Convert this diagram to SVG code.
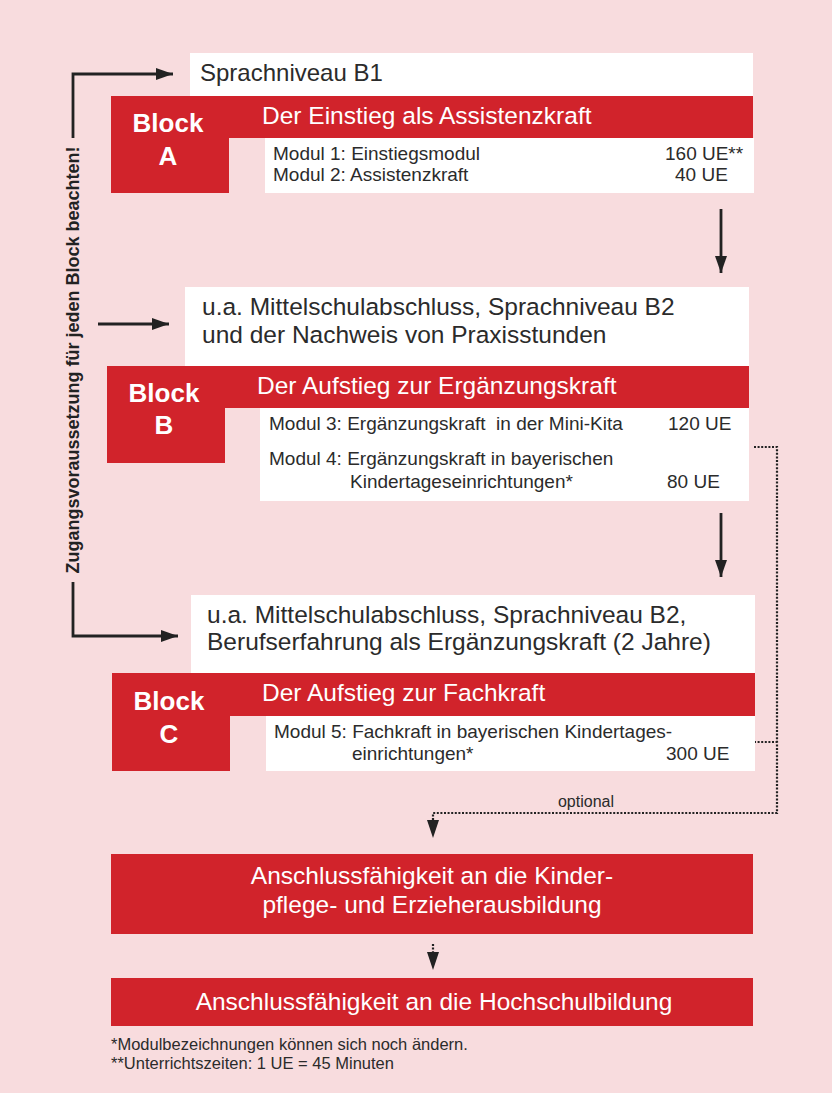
<svg xmlns="http://www.w3.org/2000/svg" width="832" height="1093" viewBox="0 0 832 1093">
<defs>
<style>
.bg{fill:#F8DCDE}
.red{fill:#D1232B}
.wht{fill:#FFFFFF}
text{font-family:"Liberation Sans",Arial,sans-serif}
.req{font-size:24.5px;fill:#2B2B2B}
.hdr{font-size:24.5px;fill:#FFFFFF}
.blk{font-size:26px;font-weight:bold;fill:#FFFFFF;text-anchor:middle}
.mod{font-size:19px;fill:#2B2B2B}
.bot{font-size:24.5px;fill:#FFFFFF;text-anchor:middle}
.note{font-size:16.5px;fill:#2B2B2B}
.opt{font-size:16px;fill:#2B2B2B;text-anchor:middle}
.side{font-size:18px;font-weight:bold;fill:#222222;text-anchor:middle}
.ln{fill:none;stroke:#222222;stroke-width:2.8}
.dot{fill:none;stroke:#222222;stroke-width:2.2;stroke-dasharray:2 1.6}
.head{fill:#222222}
</style>
<marker id="ah" viewBox="0 0 17 12" refX="17" refY="6" markerWidth="17" markerHeight="12" markerUnits="userSpaceOnUse" orient="auto">
<path d="M0 0 L17 6 L0 12 Z" fill="#222222"/>
</marker>
</defs>
<rect class="bg" x="0" y="0" width="832" height="1093"/>

<g id="connectors">
<path class="ln" d="M73 138 V74 H173" marker-end="url(#ah)"/>
<line class="ln" x1="98" y1="324" x2="169" y2="324" marker-end="url(#ah)"/>
<path class="ln" d="M73 582 V636 H178" marker-end="url(#ah)"/>
<line class="ln" x1="721" y1="209" x2="721" y2="273" marker-end="url(#ah)"/>
<line class="ln" x1="721" y1="513" x2="721" y2="577" marker-end="url(#ah)"/>
<path class="dot" d="M754 447 H777 V813 H433 V822"/>
<path class="dot" d="M754 742 H777"/>
<polygon class="head" points="427,820 439,820 433,838"/>
<path class="dot" d="M433 944 V953"/>
<polygon class="head" points="427,952 439,952 433,970"/>
<text class="opt" x="586" y="807">optional</text>
<text class="side" transform="translate(79,360) rotate(-90)" x="0" y="0">Zugangsvoraussetzung für jeden Block beachten!</text>
</g>

<g id="block-a">
<rect class="wht" x="190" y="53" width="563" height="43"/>
<text class="req" x="200" y="81" style="font-size:24px">Sprachniveau B1</text>
<polygon class="red" points="111,96 753,96 753,138 229,138 229,193 111,193"/>
<text class="blk" x="168" y="132">Block</text>
<text class="blk" x="168" y="165">A</text>
<text class="hdr" x="262" y="124">Der Einstieg als Assistenzkraft</text>
<rect class="wht" x="265" y="138" width="489" height="55"/>
<text class="mod" x="273" y="160">Modul 1: Einstiegsmodul</text>
<text class="mod" x="273" y="181">Modul 2: Assistenzkraft</text>
<text class="mod" x="665" y="160">160 UE**</text>
<text class="mod" x="675" y="181">40 UE</text>
</g>

<g id="block-b">
<rect class="wht" x="185" y="287" width="564" height="79"/>
<text class="req" x="202" y="315">u.a. Mittelschulabschluss, Sprachniveau B2</text>
<text class="req" x="202" y="343">und der Nachweis von Praxisstunden</text>
<polygon class="red" points="107,366 749,366 749,408 225,408 225,463 107,463"/>
<text class="blk" x="164" y="402">Block</text>
<text class="blk" x="164" y="434">B</text>
<text class="hdr" x="257" y="394">Der Aufstieg zur Ergänzungskraft</text>
<rect class="wht" x="260" y="408" width="489" height="93"/>
<text class="mod" x="269" y="430" xml:space="preserve">Modul 3: Ergänzungskraft  in der Mini-Kita</text>
<text class="mod" x="668" y="430">120 UE</text>
<text class="mod" x="269" y="465">Modul 4: Ergänzungskraft in bayerischen</text>
<text class="mod" x="350" y="488">Kindertageseinrichtungen*</text>
<text class="mod" x="667" y="488">80 UE</text>
</g>

<g id="block-c">
<rect class="wht" x="191" y="595" width="564" height="78"/>
<text class="req" x="207" y="623">u.a. Mittelschulabschluss, Sprachniveau B2,</text>
<text class="req" x="207" y="650">Berufserfahrung als Ergänzungskraft (2 Jahre)</text>
<polygon class="red" points="112,673 755,673 755,716 230,716 230,771 112,771"/>
<text class="blk" x="169" y="710">Block</text>
<text class="blk" x="169" y="743">C</text>
<text class="hdr" x="262" y="701">Der Aufstieg zur Fachkraft</text>
<rect class="wht" x="266" y="716" width="489" height="55"/>
<text class="mod" x="274" y="738">Modul 5: Fachkraft in bayerischen Kindertages-</text>
<text class="mod" x="352" y="760">einrichtungen*</text>
<text class="mod" x="666" y="760">300 UE</text>
</g>

<g id="anschluss-kinderpflege">
<rect class="red" x="111" y="854" width="642" height="80"/>
<text class="bot" x="432" y="884">Anschlussfähigkeit an die Kinder-</text>
<text class="bot" x="432" y="913">pflege- und Erzieherausbildung</text>
</g>

<g id="anschluss-hochschule">
<rect class="red" x="111" y="978" width="642" height="48"/>
<text class="bot" x="434" y="1010">Anschlussfähigkeit an die Hochschulbildung</text>
</g>

<g id="footnotes">
<text class="note" x="111" y="1050">*Modulbezeichnungen können sich noch ändern.</text>
<text class="note" x="111" y="1069">**Unterrichtszeiten: 1 UE = 45 Minuten</text>
</g>
</svg>
